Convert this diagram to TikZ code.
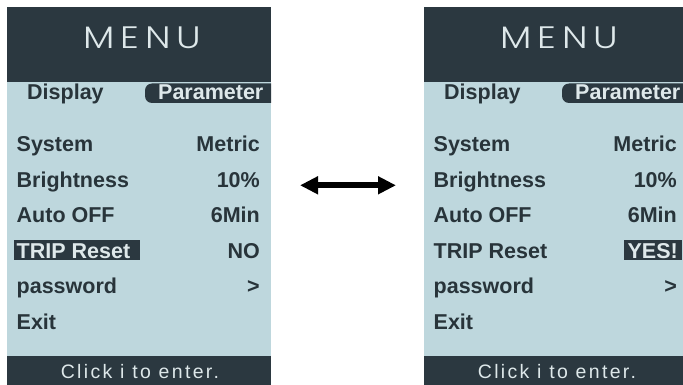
\documentclass[tikz,border=0pt]{standalone}
\usepackage{fontspec}
\setmainfont{Liberation Sans}
\newfontfamily\menufont{Poppins Light}[LetterSpace=19, FakeStretch=1.2]
\newfontfamily\clickfont{Liberation Sans}[LetterSpace=12]
\usepackage{xcolor}
\usetikzlibrary{arrows.meta, positioning}
\definecolor{ScrDark}{RGB}{43, 56, 64}
\definecolor{ScrBody}{RGB}{190, 215, 221}
\definecolor{ScrText}{RGB}{40, 52, 58}
\definecolor{ScrLight}{RGB}{222, 232, 234}

\tikzset{
  menutitle/.style={anchor=base, inner sep=0pt, text=ScrLight, font=\fontsize{31}{31}\menufont},
  tablabel/.style={anchor=base west, inner sep=0pt, font=\fontsize{21.5}{22}\selectfont\bfseries},
  rowlabel/.style={anchor=base west, inner sep=0pt, text=ScrText, font=\fontsize{21.5}{22}\selectfont\bfseries},
  rowvalue/.style={anchor=base east, inner sep=0pt, text=ScrText, font=\fontsize{21.5}{22}\selectfont\bfseries},
  marked/.style={fill=ScrDark, text=ScrLight, inner xsep=2.5pt, inner ysep=0pt, text height=18pt, text depth=2pt},
  hint/.style={anchor=base, inner sep=0pt, text=ScrLight, font=\fontsize{19.5}{20}\clickfont},
  swaparrow/.style={line width=6pt, {Triangle[length=18pt,width=17pt]}-{Triangle[length=18pt,width=17pt]}}
}

\begin{document}
\begin{tikzpicture}[x=1pt, y=-1pt]
    \path[use as bounding box] (0,0) rectangle (683,385);
    % both screens share the same frame and rows
    \foreach \s/\dx in {l/0, r/417} {
      \begin{scope}[xshift=\dx pt]
        \clip (7,7) rectangle (271,385);
        \fill[ScrBody] (7,7) rectangle (271,385);
        \fill[ScrDark] (7,7) rectangle (271,82);
        \fill[ScrDark] (7,356) rectangle (271,385);
        \fill[ScrDark, rounded corners=7pt] (280,83.5) -- (145,83.5) -- (145,103) -- (280,103) -- cycle;
        \node[menutitle] (\s-menu) at (142.5,48.3) {MENU};
        \node[tablabel, text=ScrText] (\s-display) at (27,99.5) {Display};
        \node[tablabel, text=ScrLight] (\s-param) at (158,100) {Parameter};
        \foreach \i/\lab/\val in {0/System/Metric, 1/Brightness/10\%, 2/Auto OFF/6Min, 4/password/>} {
          \node[rowlabel] (\s-lab\i) at (16.5,{152+35.4*\i}) {\lab};
          \node[rowvalue] (\s-val\i) at (260,{152+35.4*\i}) {\val};
        }
        \node[rowlabel] (\s-lab5) at (16.5,329) {Exit};
        \node[hint] (\s-hint) at (140,378.3) {Click i to enter.};
      \end{scope}
    }
    % the row that changes
    \node[rowlabel, marked] (l-lab3) at (14,258.3) {\makebox[121pt][l]{TRIP Reset}};
    \node[rowvalue] (l-val3) at (260,258.3) {NO};
    \node[rowlabel] (r-lab3) at (433.5,258.3) {TRIP Reset};
    \node[rowvalue, marked, inner xsep=4pt] (r-val3) at (682,258.3) {YES!};
    % switch between the two states
    \coordinate (swap-l) at (300,185.3);
    \coordinate (swap-r) at (396,185.3);
    \draw[swaparrow] (swap-l) -- (swap-r);
\end{tikzpicture}
\end{document}
